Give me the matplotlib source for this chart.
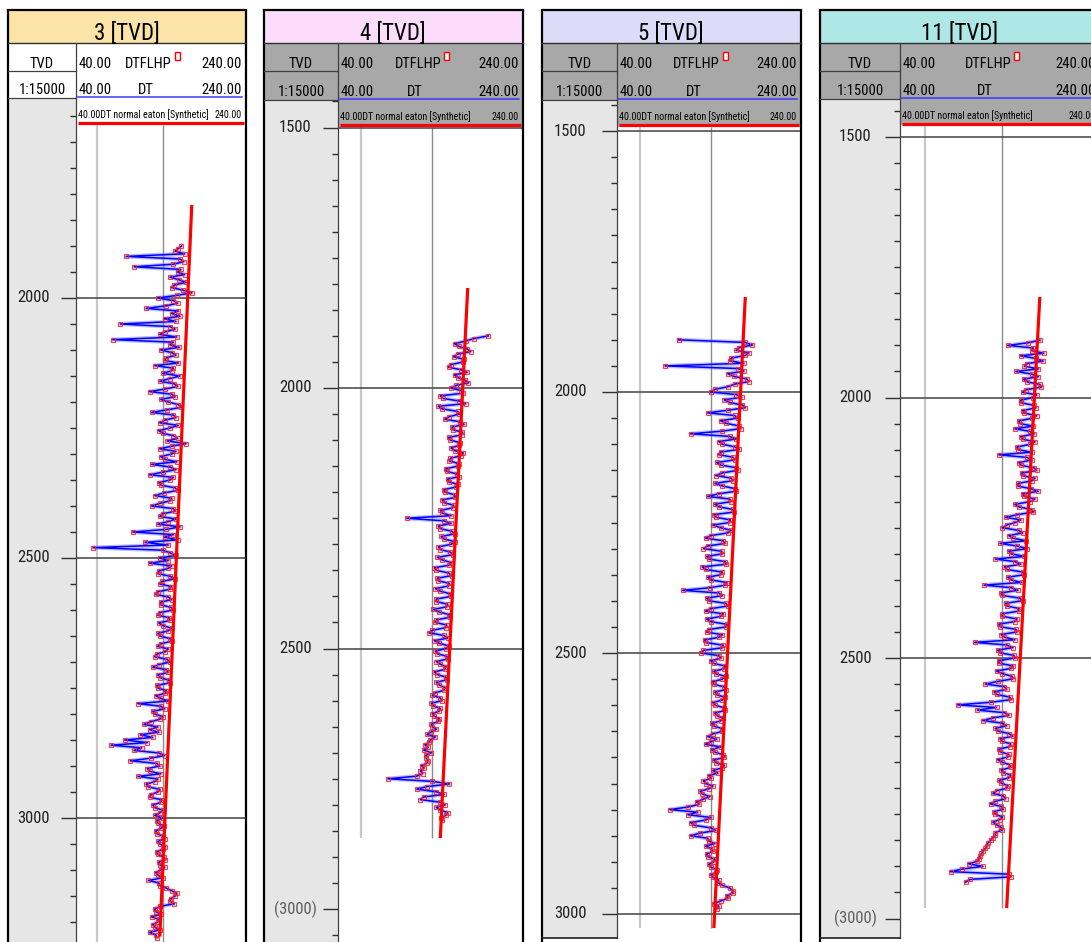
import numpy as np
import matplotlib
matplotlib.use("Agg")
import matplotlib.pyplot as plt
from matplotlib import font_manager as fm
from matplotlib.patches import Rectangle
from matplotlib.ticker import FixedLocator, MultipleLocator, NullLocator
from matplotlib.transforms import blended_transform_factory

# ---------------- data ----------------
well_titles = ["3 [TVD]", "4 [TVD]", "5 [TVD]", "11 [TVD]"]
curve_labels = ["DTFLHP", "DT", "DT normal eaton [Synthetic]"]
scale_left, scale_right = 40.0, 240.0
scale_text = "1:15000"
depth_step = 5  # metres between DT samples

dt_start_3 = 1900
dt_3 = [122, 118, 114, 126, 68, 120, 125, 112, 74, 121, 117, 126, 108, 119, 128, 113, 110, 124, 136, 116,
        95, 112, 117, 104, 84, 118, 110, 120, 102, 115, 64, 108, 114, 103, 97, 116, 59, 112, 108, 119,
        98, 110, 115, 104, 102, 118, 92, 112, 110, 100, 120, 108, 97, 113, 117, 103, 87, 110, 114, 98,
        106, 118, 122, 105, 89, 112, 115, 102, 97, 118, 108, 96, 100, 112, 117, 105, 128, 110, 97, 115,
        110, 98, 102, 116, 89, 108, 115, 100, 87, 112, 108, 96, 98, 114, 117, 101, 92, 110, 108, 97,
        89, 112, 114, 100, 97, 115, 106, 95, 120, 104, 73, 112, 102, 117, 83, 106, 48, 100, 108, 115,
        97, 106, 87, 110, 106, 96, 95, 108, 114, 99, 97, 110, 108, 95, 93, 106, 110, 98, 98, 109,
        112, 97, 95, 107, 108, 96, 100, 110, 106, 95, 97, 108, 110, 98, 95, 106, 103, 94, 92, 105,
        108, 96, 90, 104, 106, 95, 97, 107, 108, 94, 95, 104, 103, 93, 98, 106, 77, 98, 102, 90,
        92, 100, 97, 88, 82, 95, 87, 96, 79, 90, 67, 85, 58, 80, 74, 96, 102, 88, 71, 94,
        97, 85, 87, 98, 77, 95, 92, 84, 86, 97, 95, 88, 87, 99, 98, 90, 92, 100, 97, 92,
        100, 94, 95, 101, 98, 93, 94, 100, 102, 95, 97, 103, 100, 94, 95, 101, 103, 96, 97, 102,
        98, 93, 95, 100, 86, 96, 97, 104, 110, 116, 114, 109, 108, 113, 97, 92, 93, 98, 89, 96,
        95, 90, 92, 97, 87, 93, 94]
trend_depth_3 = [1821, 3228]
trend_dt_3 = [136, 97]
depth_labels_3 = [2000, 2500, 3000]

dt_start_4 = 1900
dt_4 = [172, 150, 138, 124, 129, 140, 145, 128, 123, 136, 135, 120, 117, 132, 140, 124, 128, 137, 142, 126,
        120, 132, 135, 108, 111, 130, 138, 106, 110, 128, 130, 118, 113, 131, 136, 121, 122, 134, 133, 117,
        119, 131, 130, 120, 124, 135, 132, 119, 118, 129, 128, 114, 115, 127, 130, 116, 117, 128, 126, 112,
        113, 124, 125, 110, 112, 123, 122, 108, 110, 120, 78, 112, 120, 106, 108, 121, 124, 109, 112, 125,
        120, 106, 108, 119, 122, 105, 110, 120, 118, 102, 104, 117, 121, 105, 106, 118, 117, 103, 108, 119,
        120, 104, 104, 116, 115, 101, 107, 118, 119, 104, 103, 115, 114, 100, 97, 112, 116, 102, 107, 117,
        114, 103, 105, 115, 116, 104, 108, 114, 113, 102, 105, 114, 115, 104, 107, 113, 112, 103, 100, 108,
        110, 99, 101, 108, 107, 100, 102, 107, 106, 99, 100, 104, 99, 95, 103, 98, 97, 93, 96, 92,
        99, 94, 94, 96, 95, 90, 92, 89, 91, 86, 65, 100, 118, 95, 86, 104, 112, 92, 89, 108,
        113, 104, 108, 116, 114, 109, 110]
trend_depth_4 = [1808, 2864]
trend_dt_4 = [141, 108]
depth_labels_4 = [1500, 2000, 2500, 3000]

dt_start_5 = 1900
dt_5 = [73, 140, 150, 132, 128, 145, 140, 122, 120, 138, 64, 130, 138, 118, 125, 142, 145, 126, 118, 104,
        100, 128, 135, 114, 120, 136, 140, 118, 97, 126, 130, 110, 116, 132, 134, 112, 82, 120, 128, 108,
        112, 126, 132, 110, 108, 124, 126, 106, 110, 128, 130, 112, 105, 122, 124, 104, 112, 126, 128, 108,
        97, 120, 122, 104, 108, 124, 125, 103, 105, 121, 120, 102, 110, 122, 118, 100, 95, 113, 115, 97,
        93, 111, 112, 96, 98, 115, 116, 92, 95, 112, 110, 97, 100, 117, 115, 99, 76, 108, 112, 96,
        98, 116, 118, 100, 95, 113, 110, 96, 100, 117, 116, 98, 96, 112, 108, 94, 95, 113, 112, 93,
        91, 108, 110, 100, 103, 115, 114, 103, 105, 116, 112, 102, 103, 114, 116, 104, 106, 115, 112, 102,
        104, 114, 115, 104, 106, 113, 110, 101, 103, 112, 112, 102, 97, 106, 100, 95, 110, 101, 104, 113,
        114, 103, 105, 114, 112, 102, 107, 98, 100, 93, 95, 102, 98, 90, 92, 99, 93, 87, 89, 80,
        67, 88, 80, 100, 95, 82, 85, 100, 105, 90, 82, 97, 98, 104, 95, 101, 102, 96, 97, 104,
        103, 98, 100, 106, 105, 100, 102, 108, 107, 112, 120, 124, 124, 117, 118, 110, 103, 108, 106]
trend_depth_5 = [1818, 3027]
trend_dt_5 = [140, 103]
depth_labels_5 = [1500, 2000, 2500, 3000]

dt_start_11 = 1890
dt_11 = [140, 126, 105, 132, 130, 145, 118, 135, 144, 125, 122, 138, 113, 130, 138, 121, 125, 140, 142, 124,
         120, 136, 132, 118, 118, 133, 135, 120, 122, 136, 130, 116, 117, 132, 112, 128, 133, 118, 120, 134,
         128, 114, 115, 130, 97, 125, 130, 116, 118, 133, 136, 119, 120, 134, 130, 115, 115, 129, 138, 120,
         122, 134, 128, 112, 116, 130, 132, 114, 103, 118, 112, 104, 100, 116, 120, 106, 110, 124, 98, 114,
         125, 106, 108, 122, 94, 112, 118, 102, 104, 120, 122, 105, 108, 119, 85, 108, 115, 99, 100, 117,
         120, 103, 104, 116, 116, 100, 100, 114, 112, 97, 98, 113, 114, 99, 102, 112, 78, 104, 110, 96,
         98, 111, 112, 97, 97, 110, 108, 95, 100, 109, 110, 96, 86, 102, 104, 93, 95, 107, 108, 90,
         67, 95, 80, 102, 106, 92, 84, 100, 104, 94, 96, 106, 110, 98, 100, 108, 107, 97, 98, 106,
         105, 96, 100, 107, 108, 99, 101, 108, 106, 97, 99, 105, 104, 95, 92, 101, 103, 94, 90, 99,
         101, 93, 94, 100, 98, 92, 95, 99, 100, 94, 94, 92, 90, 88, 87, 86, 84, 83, 82, 81,
         80, 74, 84, 70, 63, 106, 108, 75, 72]
trend_depth_11 = [1807, 2980]
trend_dt_11 = [140, 104]
depth_labels_11 = [1500, 2000, 2500, 3000]

# ---------------- fonts ----------------
_entries = fm.fontManager.ttflist
_names = {f.name for f in _entries}
_narrow = next((n for n in ["Liberation Sans Narrow", "Arial Narrow",
                            "Roboto Condensed", "Open Sans Condensed"] if n in _names), None)
if _narrow:
    FONT = dict(family=_narrow)
    SC = 1.0
elif any(f.name == "DejaVu Sans" and "cond" in str(f.stretch) for f in _entries):
    FONT = dict(family="DejaVu Sans", stretch="condensed")
    SC = 0.9
else:
    FONT = dict(family="Liberation Sans")
    SC = 0.82

# ---------------- layout ----------------
W, H = 1091, 942
fig = plt.figure(figsize=(W / 100, H / 100), dpi=100)
fig.patch.set_facecolor("white")

bg = fig.add_axes([0, 0, 1, 1], zorder=0)
bg.set_xlim(0, W); bg.set_ylim(H, 0); bg.axis("off")
fg = fig.add_axes([0, 0, 1, 1], zorder=5)
fg.set_xlim(0, W); fg.set_ylim(H, 0); fg.axis("off")

panels = [
    dict(title=well_titles[0], dt=dt_3, d0=dt_start_3, td=trend_depth_3, tv=trend_dt_3,
         labels=depth_labels_3, paren=[], grid=[2000, 2500, 3000], vend=None,
         left=8, div=76, right=245.5, r2=98, ttop=124.5, ref_d=2000, ref_y=298, ppm=0.52,
         tcol="#FCE3A7", hcol="white", bline=False, lx=0.38),
    dict(title=well_titles[1], dt=dt_4, d0=dt_start_4, td=trend_depth_4, tv=trend_dt_4,
         labels=depth_labels_4, paren=[3000], grid=[1500, 2000, 2500], vend=trend_depth_4[-1],
         left=264, div=338, right=522.5, r2=100, ttop=126.5, ref_d=1500, ref_y=127.5, ppm=0.521,
         tcol="#FBDDFB", hcol="#A8A8A8", bline=False, lx=0.42),
    dict(title=well_titles[2], dt=dt_5, d0=dt_start_5, td=trend_depth_5, tv=trend_dt_5,
         labels=depth_labels_5, paren=[], grid=[1500, 2000, 2500, 3000], vend=trend_depth_5[-1],
         left=542, div=617, right=800.5, r2=100, ttop=126.5, ref_d=1500, ref_y=131, ppm=0.522,
         tcol="#DCDCF8", hcol="#A8A8A8", bline=True, lx=0.38),
    dict(title=well_titles[3], dt=dt_11, d0=dt_start_11, td=trend_depth_11, tv=trend_dt_11,
         labels=depth_labels_11, paren=[3000], grid=[1500, 2000, 2500], vend=trend_depth_11[-1],
         left=820, div=900, right=1100, r2=99, ttop=125, ref_d=1500, ref_y=137, ppm=0.521,
         tcol="#AEE8E6", hcol="#A8A8A8", bline=True, lx=0.44),
]

DEPTH_BG = "#E6E6E6"
F_TITLE, F_ROW, F_ROW3, F_DEPTH = 16.5 * SC, 10.5 * SC, 7.2 * SC, 12.0 * SC


def px_to_depth(p, y):
    return p["ref_d"] + (y - p["ref_y"]) / p["ppm"]


for p in panels:
    L, D, R = p["left"], p["div"], p["right"]
    r2, tt = p["r2"], p["ttop"]
    bot = 937.5 if p["bline"] else H

    # fills
    bg.add_patch(Rectangle((L, 9.5), R - L, 43 - 9.5, fc=p["tcol"], ec="none"))
    bg.add_patch(Rectangle((L, 43), R - L, r2 - 43, fc=p["hcol"], ec="none"))
    bg.add_patch(Rectangle((D, r2), R - D, tt - r2, fc=p["hcol"], ec="none"))
    bg.add_patch(Rectangle((L, r2), D - L, bot - r2, fc=DEPTH_BG, ec="none"))

    # frame & cell lines
    fg.plot([L, L], [9.5, H], color="black", lw=1.6, solid_capstyle="butt")
    fg.plot([R, R], [9.5, H], color="black", lw=1.6, solid_capstyle="butt")
    fg.plot([L, R], [9.5, 9.5], color="black", lw=1.6)
    fg.plot([L, R], [43, 43], color="#303030", lw=1.0)
    fg.plot([L, D], [71, 71], color="#404040", lw=0.9)
    fg.plot([L, D], [r2, r2], color="#404040", lw=0.9)
    fg.plot([D, D], [43, bot], color="#404040", lw=0.9)
    if p["bline"]:
        fg.plot([L, D], [bot, bot], color="#202020", lw=1.2)
    fg.plot([D + 2, R - 4], [r2 - 1.5, r2 - 1.5], color="#3A3AFF", lw=1.1)
    fg.plot([D + 2, R - 2], [tt - 1.2, tt - 1.2], color="#FF0000", lw=2.3, solid_capstyle="butt")

    # header texts
    cx = (L + R) / 2
    tc = (D + R) / 2
    fg.text(cx, 39.5, p["title"], ha="center", va="baseline", fontsize=F_TITLE, **FONT)
    fg.text((L + D) / 2, 67.5, "TVD", ha="center", va="baseline", fontsize=F_ROW, **FONT)
    fg.text((L + D) / 2, r2 - 4, scale_text, ha="center", va="baseline", fontsize=F_ROW, **FONT)
    for yb, lab, off in [(67.5, curve_labels[0], -12), (r2 - 4, curve_labels[1], -15)]:
        fg.text(D + 3, yb, f"{scale_left:.2f}", ha="left", va="baseline", fontsize=F_ROW, **FONT)
        fg.text(R - 4, yb, f"{scale_right:.2f}", ha="right", va="baseline", fontsize=F_ROW, **FONT)
        fg.text(tc + off, yb, lab, ha="center", va="baseline", fontsize=F_ROW, **FONT)
    fg.add_patch(Rectangle((tc + 14, 52), 5, 8, fc="white", ec="red", lw=1.0))
    fg.text(D + 2, tt - 6, f"{scale_left:.2f}{curve_labels[2]}", ha="left", va="baseline",
            fontsize=F_ROW3, **FONT)
    fg.text(R - 4, tt - 6, f"{scale_right:.2f}", ha="right", va="baseline", fontsize=F_ROW3, **FONT)

    # depth column axes
    dax = fig.add_axes([L / W, 1 - bot / H, (D - L) / W, (bot - r2) / H], zorder=3)
    dax.patch.set_alpha(0)
    dax.set_ylim(px_to_depth(p, bot), px_to_depth(p, r2))
    dax.set_xlim(0, 1)
    for s in dax.spines.values():
        s.set_visible(False)
    dax.xaxis.set_major_locator(NullLocator())
    dax.yaxis.set_ticks_position("right")
    dax.yaxis.set_major_locator(FixedLocator(p["labels"]))
    dax.yaxis.set_minor_locator(MultipleLocator(50))
    dax.tick_params(axis="y", which="major", direction="in", length=10.5, width=1.0,
                    color="#303030", labelright=False, labelleft=False)
    dax.tick_params(axis="y", which="minor", direction="in", length=4.5, width=1.0,
                    color="#303030")
    tr = blended_transform_factory(dax.transAxes, dax.transData)
    for d in p["labels"]:
        txt = f"({d})" if d in p["paren"] else f"{d}"
        col = "#606060" if d in p["paren"] else "#202020"
        dax.text(p["lx"], d, txt, transform=tr, ha="center", va="center",
                 fontsize=F_DEPTH, color=col, **FONT)

    # track axes
    tax = fig.add_axes([D / W, 0, (R - D) / W, (H - tt) / H], zorder=2)
    tax.patch.set_alpha(0)
    tax.set_xscale("log")
    tax.set_xlim(scale_left, scale_right)
    dtop, dbot = px_to_depth(p, tt), px_to_depth(p, H)
    tax.set_ylim(dbot, dtop)
    for s in tax.spines.values():
        s.set_visible(False)
    tax.xaxis.set_major_locator(NullLocator())
    tax.xaxis.set_minor_locator(NullLocator())
    tax.yaxis.set_major_locator(NullLocator())
    vend = p["vend"] if p["vend"] is not None else dbot
    tax.vlines(50, dtop, vend, colors="#C8C8C8", lw=1.6, zorder=1)
    tax.vlines(100, dtop, vend, colors="#8C8C8C", lw=1.0, zorder=1)
    tax.hlines(p["grid"], scale_left, scale_right, colors="#505050", lw=1.2, zorder=1)

    depth = p["d0"] + depth_step * np.arange(len(p["dt"]))
    vals = np.asarray(p["dt"], dtype=float)
    tax.plot(vals, depth, color="#6F6FFF", lw=3.0, alpha=0.45, zorder=2)
    tax.plot(vals, depth, color="#0000FF", lw=1.1, zorder=3)
    tax.plot(vals, depth, ls="none", marker="s", ms=2.8, mfc="none", mec="#FF2020",
             mew=0.8, alpha=0.85, zorder=4)
    tax.plot(p["tv"], p["td"], color="#FF0000", lw=2.3, zorder=5, solid_capstyle="butt")

fig.savefig("out.png", dpi=100, facecolor="white")
